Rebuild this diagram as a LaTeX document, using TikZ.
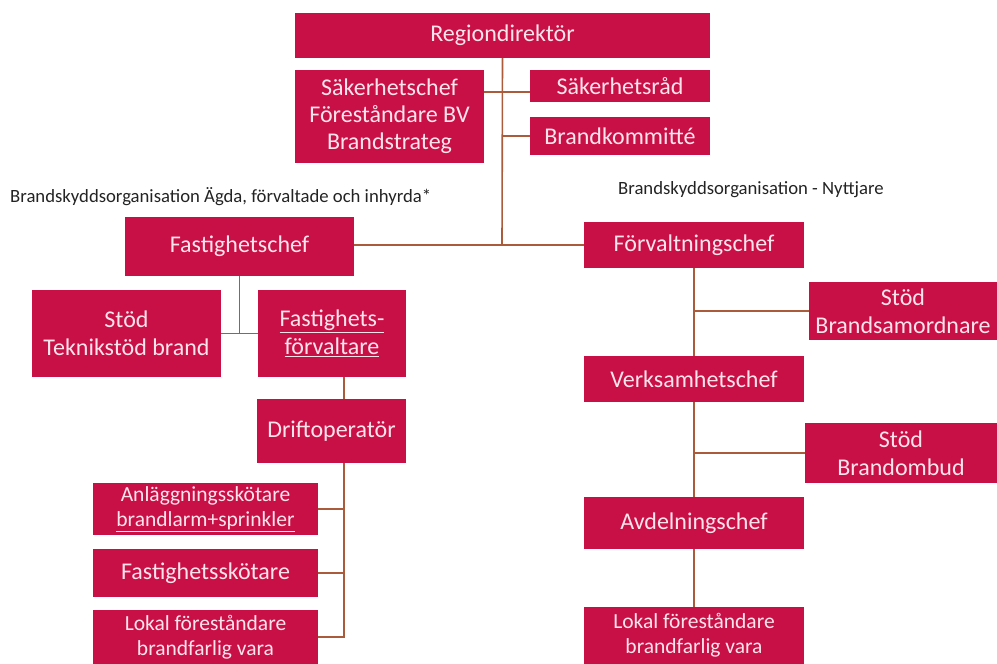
\documentclass[tikz,border=0pt]{standalone}
\usepackage{fontspec}
\setmainfont{Carlito}
\usepackage{xcolor}
\usepackage{tikz}
\definecolor{boxred}{RGB}{200,16,70}
\definecolor{boxtext}{RGB}{255,228,236}
\definecolor{linkline}{RGB}{170,92,58}
\definecolor{captext}{RGB}{35,35,35}

\begin{document}
\begin{tikzpicture}[x=1pt, y=-1pt,
		box/.style 2 args={fill=boxred, text=boxtext, inner sep=0pt, minimum width=#1, minimum height=#2, align=center, font=\fontsize{24}{28}\selectfont},
		smallfont/.style={font=\fontsize{21.5}{25}\selectfont},
		link/.style={draw=linkline, line width=1.6pt},
		grouplabel/.style={text=captext, anchor=west, inner sep=0pt, font=\fontsize{18.7}{22}\selectfont}]
		\useasboundingbox (0,0) rectangle (997,664);

		\path (502.5,35.5) node[box={415pt}{45pt}] (rd) {Regiondirektör};
		\path (rd) ++(-113,81) node[box={189pt}{93pt}, font=\fontsize{24}{27}\selectfont] (sak) {Säkerhetschef\\Föreståndare BV\\Brandstrateg};
		\path (rd) ++(117.5,50.5) node[box={180pt}{32pt}] (sr) {Säkerhetsråd};
		\path (sr) ++(0,50) node[box={180pt}{38pt}] (bk) {Brandkommitté};

		\path (10,197) node[grouplabel] (lblagd) {Brandskyddsorganisation Ägda, förvaltade och inhyrda*};
		\path (618,190) node[grouplabel] (lblnyt) {Brandskyddsorganisation - Nyttjare};

		\path (239.5,246.5) node[box={229pt}{59pt}] (fc) {Fastighetschef};
		\path (fc) ++(-113,87) node[box={189pt}{87pt}] (tek) {Stöd\\Teknikstöd brand};
		\path (fc) ++(92.5,87) node[box={148pt}{87pt}] (ff) {\underline{Fastighets-}\\\underline{förvaltare}};
		\path (ff) ++(-0.5,97.5) node[box={149pt}{64pt}] (dr) {Driftoperatör};
		\path (205.5,509) node[box={225pt}{52pt}, smallfont] (an) {Anläggningsskötare\\\underline{brandlarm+sprinkler}};
		\path (an) ++(0,64) node[box={225pt}{48pt}] (fs) {Fastighetsskötare};
		\path (fs) ++(0,64) node[box={225pt}{54pt}, smallfont] (lokl) {Lokal föreståndare\\brandfarlig vara};

		\path (694,245) node[box={220pt}{46pt}] (fv) {Förvaltningschef};
		\path (fv) ++(209,66) node[box={188pt}{58pt}] (bs) {Stöd\\Brandsamordnare};
		\path (fv) ++(0,134) node[box={220pt}{46pt}] (vc) {Verksamhetschef};
		\path (vc) ++(207,74) node[box={192pt}{60pt}] (bo) {Stöd\\Brandombud};
		\path (vc) ++(0,144) node[box={220pt}{52pt}] (ac) {Avdelningschef};
		\path (ac) ++(0,112.5) node[box={220pt}{57pt}, smallfont] (lokr) {Lokal föreståndare\\brandfarlig vara};

		\coordinate (mid) at (502,245);
		\coordinate (j1) at (502,92);
		\coordinate (d1) at (344,0);
		\path [link] (rd.south) -- (mid);
		\path [link] (fc.east |- mid) -- (fv.west |- mid);
		\path [link] (sak.east |- j1) -- (sr.west |- j1);
		\path [link] (rd.south |- bk) -- (bk.west);

		\path [link] (fc.south) -- (fc.south |- tek.east);
		\path [link] (tek.east) -- (ff.west);
		\path [link] (d1 |- ff.south) -- (d1 |- dr.north);
		\path [link] (d1 |- dr.south) -- (d1 |- lokl.east) -- (lokl.east);
		\path [link] (an.east) -- (d1 |- an.east);
		\path [link] (fs.east) -- (d1 |- fs.east);

		\path [link] (fv.south) -- (vc.north);
		\path [link] (vc.south) -- (ac.north);
		\path [link] (ac.south) -- (lokr.north);
		\path [link] (fv.south |- bs.west) -- (bs.west);
		\path [link] (vc.south |- bo.west) -- (bo.west);
	\end{tikzpicture}
\end{document}
